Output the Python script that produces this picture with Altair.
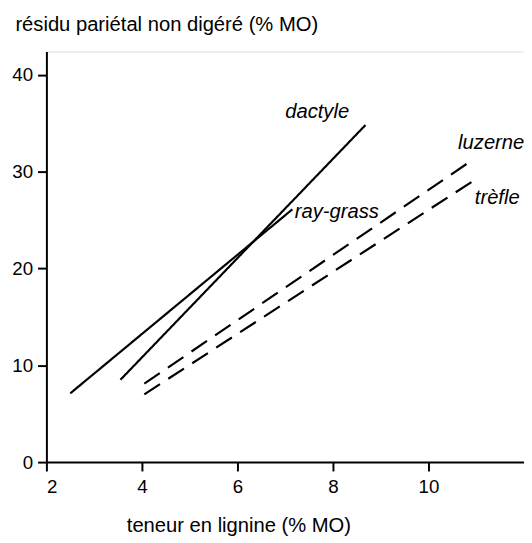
import altair as alt
import pandas as pd

# Data
series = ["dactyle", "ray-grass", "luzerne", "trèfle"]
x_start = [3.55, 2.5, 4.05, 4.05]
y_start = [8.5, 7.1, 8.1, 7.0]
x_end = [8.68, 7.15, 10.95, 11.05]
y_end = [34.8, 26.1, 31.3, 29.4]
dashed = [False, False, True, True]

label_text = ["dactyle", "ray-grass", "luzerne", "trèfle"]
label_x = [7.0, 7.2, 10.62, 10.97]
label_y = [35.5, 25.2, 32.3, 26.6]

x_ticks = [2, 4, 6, 8, 10]
y_ticks = [0, 10, 20, 30, 40]

rows = []
for s, x0, y0, x1, y1, d in zip(series, x_start, y_start, x_end, y_end, dashed):
    rows.append({"serie": s, "x": x0, "y": y0, "order": 0, "dash": "d" if d else "s"})
    rows.append({"serie": s, "x": x1, "y": y1, "order": 1, "dash": "d" if d else "s"})
lines_df = pd.DataFrame(rows)
labels_df = pd.DataFrame({"text": label_text, "x": label_x, "y": label_y})

font = "Liberation Sans"

xscale = alt.Scale(domain=[2, 12], nice=False, zero=False)
yscale = alt.Scale(domain=[0, 42.4], nice=False)

xaxis = alt.Axis(values=x_ticks, grid=False, domainColor="black", tickColor="black",
                 tickSize=9, tickWidth=2, domainWidth=2, labelPadding=7,
                 labelFont=font, labelFontSize=19, labelColor="black",
                 title="teneur en lignine (% MO)", titleFont=font, titleFontSize=20.5,
                 titleFontWeight="normal", titleColor="black",
                 titleX=195, titleY=70, titleBaseline="alphabetic")
yaxis = alt.Axis(values=y_ticks, grid=False, domainColor="black", tickColor="black",
                 tickSize=9, tickWidth=2, domainWidth=2, labelPadding=5,
                 labelFont=font, labelFontSize=19, labelColor="black",
                 title="résidu pariétal non digéré (% MO)", titleFont=font,
                 titleFontSize=20.5, titleFontWeight="normal", titleColor="black",
                 titleAngle=0, titleAlign="left", titleBaseline="alphabetic",
                 titleX=-32, titleY=-21)

base_lines = alt.Chart(lines_df).mark_line(color="black", strokeWidth=2.2).encode(
    x=alt.X("x:Q", scale=xscale, axis=xaxis),
    y=alt.Y("y:Q", scale=yscale, axis=yaxis),
    detail="serie:N",
    order="order:Q",
    strokeDash=alt.StrokeDash("dash:N", scale=alt.Scale(domain=["s", "d"], range=[[1, 0], [19, 10]]), legend=None),
)

labels = alt.Chart(labels_df).mark_text(font=font, fontSize=20.5, fontStyle="italic",
                                        align="left", baseline="alphabetic", color="black").encode(
    x=alt.X("x:Q", scale=xscale),
    y=alt.Y("y:Q", scale=yscale),
    text="text:N",
)

chart = alt.layer(base_lines, labels).properties(
    width=485, height=417,
    autosize=alt.AutoSizeParams(type="none"),
    padding={"left": 39, "top": 40, "right": 0, "bottom": 78},
).configure_view(stroke=None).configure(background="white")

chart.save("out.html", embed_options={"renderer": "svg", "actions": False})
